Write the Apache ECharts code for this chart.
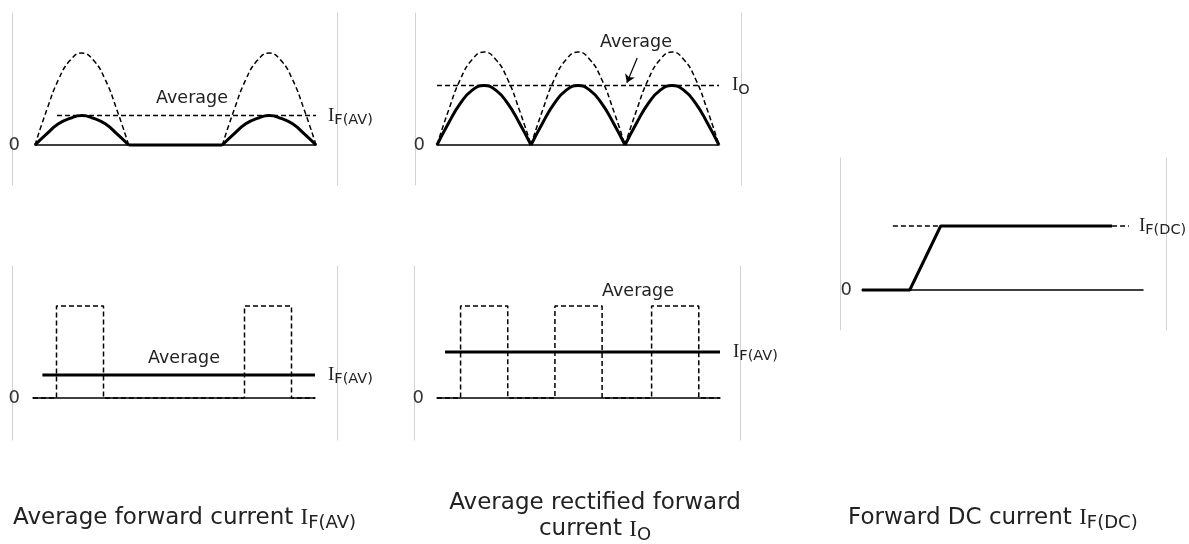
<!DOCTYPE html>
<html>
<head>
<meta charset="utf-8">
<script src="https://cdn.jsdelivr.net/npm/echarts@6/dist/echarts.min.js"></script>
<style>
  html, body { margin: 0; background: #fff; }
  #main { width: 1189px; height: 544px; }
</style>
</head>
<body>
<div id="main"></div>
<script>
// one half cycle, phase points
let humpPhase = [0, 0.125, 0.25, 0.375, 0.5, 0.625, 0.75, 0.875, 1];
// peak current (dashed curves), as fraction of Im
let peakHump = [0, 0.38, 0.71, 0.92, 1, 0.92, 0.71, 0.38, 0];
// solid humps
let halfWaveHump = [0, 0.12, 0.23, 0.29, 0.32, 0.29, 0.23, 0.12, 0];
let fullWaveHump = [0, 0.24, 0.45, 0.59, 0.64, 0.59, 0.45, 0.24, 0];
let halfWaveStarts = [0, 2];
let fullWaveStarts = [0, 1, 2];
let halfWaveFlat = [1, 2];
let avgHalfWave = 0.32;
let avgFullWave = 0.64;
let avgStartHalf = 0.235;
let avgStartFull = 0;

// square pulses (bottom)
let pulseStartsA = [0.5, 4.5];
let pulseStartsB = [0.5, 2.5, 4.55];
let pulseWidth = 1;
let pulseEnd = 6;
let avgPulseA = 0.25;
let avgPulseB = 0.5;
let avgStartA = 0.2;
let avgStartB = 0.17;

// forward DC
let dcTimes = [0, 17, 28, 89];
let dcLevels = [0, 0, 1, 1];
let dcDashTimes = [11, 28, 89, 95];

function humps(starts, values) {
  let out = [];
  starts.forEach(function (s, k) {
    if (k > 0) out.push('-');
    humpPhase.forEach(function (p, i) { out.push([s + p, values[i]]); });
  });
  return out;
}
function pulses(starts) {
  let out = [[0, 0]];
  starts.forEach(function (s) {
    out.push([s, 0], [s, 1], [s + pulseWidth, 1], [s + pulseWidth, 0]);
  });
  out.push([pulseEnd, 0]);
  return out;
}

let frames = [
  { left: 12, top: 13, width: 325, height: 172 },
  { left: 415, top: 13, width: 326, height: 172 },
  { left: 12, top: 266, width: 325, height: 174 },
  { left: 414, top: 266, width: 326, height: 174 },
  { left: 840, top: 158, width: 326, height: 172 }
];
let plots = [
  { left: 35, top: 53, width: 281, height: 92, xMax: 3, gap: 15 },
  { left: 437, top: 52, width: 282, height: 93, xMax: 3, gap: 12 },
  { left: 33, top: 306, width: 282, height: 92, xMax: 6, gap: 13 },
  { left: 437, top: 306, width: 283, height: 92, xMax: 6, gap: 13 },
  { left: 862, top: 226, width: 281, height: 64, xMax: 100, gap: 10 }
];

let txt = '#222';
let dashed = { color: '#000', width: 1.5, type: [5, 3] };
let solid = { color: '#000', width: 3 };
let subRich = {
  i: { fontFamily: 'Liberation Serif', fontSize: 19, color: txt },
  s: { fontFamily: 'DejaVu Sans', fontSize: 14.5, color: txt, padding: [9, 0, 0, 0] }
};

function line(p, data, style, extra) {
  return Object.assign({
    type: 'line', xAxisIndex: 5 + p, yAxisIndex: 10 + p, data: data,
    symbol: 'none', lineStyle: style, silent: true, clip: false, z: 3
  }, extra || {});
}
function endLabel(sub, dist) {
  return { endLabel: { show: true, distance: dist, formatter: '{i|I}{s|' + sub + '}', rich: subRich } };
}
function arrow(from, to) {
  return {
    markLine: {
      silent: true, symbol: ['none', 'arrow'], symbolSize: 8, animation: false,
      lineStyle: { color: '#000', width: 1.2, type: 'solid' }, label: { show: false },
      data: [[{ coord: from }, { coord: to }]]
    }
  };
}

let grid = frames.concat(plots).map(function (g) {
  return { left: g.left, top: g.top, width: g.width, height: g.height };
});
let xAxis = frames.map(function (f, i) {
  return { gridIndex: i, type: 'value', show: false, min: 0, max: 1 };
}).concat(plots.map(function (p, i) {
  return {
    gridIndex: 5 + i, type: 'value', min: 0, max: p.xMax,
    axisLine: { show: true, lineStyle: { color: '#000', width: 1.5 } },
    axisTick: { show: false }, axisLabel: { show: false }, splitLine: { show: false }
  };
}));
let yAxis = [];
frames.forEach(function (f, i) {
  ['left', 'right'].forEach(function (pos) {
    yAxis.push({
      gridIndex: i, type: 'value', position: pos, min: 0, max: 1,
      axisLine: { show: true, lineStyle: { color: '#d2d2d2', width: 1 } },
      axisTick: { show: false }, axisLabel: { show: false }, splitLine: { show: false }
    });
  });
});
plots.forEach(function (p, i) {
  yAxis.push({
    gridIndex: 5 + i, type: 'value', min: 0, max: 1, interval: 1,
    axisLine: { show: false }, axisTick: { show: false }, splitLine: { show: false },
    axisLabel: {
      margin: p.gap, color: '#333', fontSize: 18, fontFamily: 'DejaVu Sans',
      formatter: function (v) { return v === 0 ? '0' : ''; }
    }
  });
});

let series = [
  // top left: half-wave
  line(0, humps(halfWaveStarts, peakHump), dashed, { smooth: 0.5 }),
  line(0, humps(halfWaveStarts, halfWaveHump), solid, { smooth: 0.5 }),
  line(0, halfWaveFlat.map(function (t) { return [t, 0]; }), solid),
  line(0, [[avgStartHalf, avgHalfWave], [3, avgHalfWave]], dashed, endLabel('F(AV)', 12)),
  // top middle: full-wave
  line(1, humps(fullWaveStarts, peakHump), dashed, { smooth: 0.5 }),
  line(1, humps(fullWaveStarts, fullWaveHump), solid, { smooth: 0.5 }),
  line(1, [[avgStartFull, avgFullWave], [3, avgFullWave]], dashed,
    Object.assign(endLabel('O', 13), arrow([2.13, 0.935], [2.02, 0.67]))),
  // bottom left: pulses
  line(2, pulses(pulseStartsA), dashed),
  line(2, [[avgStartA, avgPulseA], [pulseEnd, avgPulseA]], solid, endLabel('F(AV)', 13)),
  // bottom middle: pulses
  line(3, pulses(pulseStartsB), dashed),
  line(3, [[avgStartB, avgPulseB], [pulseEnd, avgPulseB]], solid,
    Object.assign(endLabel('F(AV)', 13), arrow([3.99, 1.01], [3.82, 0.54]))),
  // right: forward DC
  line(4, dcTimes.map(function (t, i) { return [t, dcLevels[i]]; }), solid),
  line(4, [[dcDashTimes[0], 1], [dcDashTimes[1], 1], '-', [dcDashTimes[2], 1], [dcDashTimes[3], 1]], dashed, endLabel('F(DC)', 10))
];

function note(x, y, text) {
  return { type: 'text', x: x, y: y, silent: true,
    style: { text: text, fill: txt, font: '17.5px "DejaVu Sans"', align: 'center', verticalAlign: 'middle' } };
}
let capRich = {
  t: { fontFamily: 'DejaVu Sans', fontSize: 23, color: txt },
  i: { fontFamily: 'Liberation Serif', fontSize: 23, color: txt },
  s: { fontFamily: 'DejaVu Sans', fontSize: 18, color: txt, padding: [11, 0, 0, 0] }
};
function caption(x, y, text, align) {
  return { type: 'text', x: x, y: y, silent: true,
    style: { text: text, rich: capRich, align: align, verticalAlign: 'middle', fill: txt } };
}

let option = {
  animation: false,
  grid: grid,
  xAxis: xAxis,
  yAxis: yAxis,
  series: series,
  graphic: [
    note(192, 98, 'Average'),
    note(636, 42, 'Average'),
    note(184, 358, 'Average'),
    note(638, 291, 'Average'),
    caption(13, 518, '{t|Average forward current }{i|I}{s|F(AV)}', 'left'),
    caption(595, 518, '{t|Average rectified forward}\n{t|current }{i|I}{s|O}', 'center'),
    caption(848, 518, '{t|Forward DC current }{i|I}{s|F(DC)}', 'left')
  ]
};

let myChart = echarts.init(document.getElementById('main'));
myChart.setOption(option);
</script>
</body>
</html>
